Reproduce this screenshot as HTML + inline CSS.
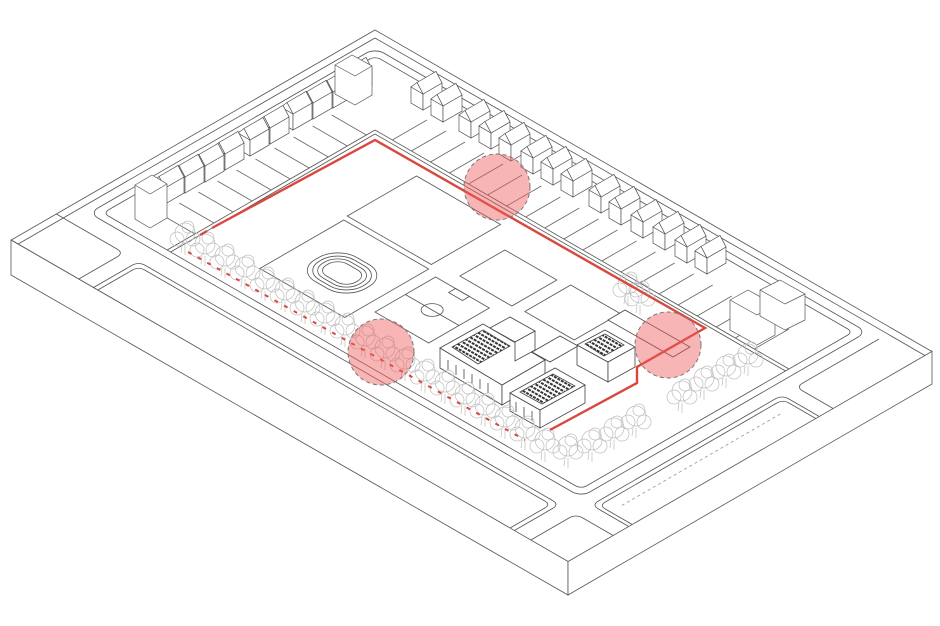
<!DOCTYPE html>
<html><head><meta charset="utf-8"><style>html,body{margin:0;padding:0;background:#fff}svg{display:block}</style></head>
<body>
<svg width="940" height="626" viewBox="0 0 940 626" xmlns="http://www.w3.org/2000/svg">
<defs>
<g id="house">
<polygon points="0,0 12,7 -7,18 -19,11" fill="#fff" stroke="#555" stroke-width="0.7"/>
<polygon points="-19,-5 6,-20.5 12,-9 -7,2" fill="#fff" stroke="#555" stroke-width="0.7"/>
<polygon points="-19,11 -7,18 -7,2 -19,-5" fill="#fff" stroke="#555" stroke-width="0.7"/>
<polygon points="-7,18 12,7 12,-9 -7,2" fill="#fff" stroke="#555" stroke-width="0.7"/>
<polygon points="-7,2 12,-9 6,-20.5 -13,-9.5" fill="#fff" stroke="#555" stroke-width="0.7"/>
<polygon points="-19,-5 -7,2 -13,-9.5" fill="#fff" stroke="#555" stroke-width="0.7"/>
</g>
<g id="tree" fill="none" stroke="#bdbdbd" stroke-width="0.7">
<circle cx="0" cy="-12" r="10"/><circle cx="-8" cy="-6" r="7"/><circle cx="8" cy="-6" r="7"/><circle cx="3" cy="-18" r="6"/>
<line x1="0" y1="0" x2="0" y2="10"/><line x1="-3" y1="0" x2="-4" y2="8"/>
</g>
<pattern id="pv" width="4" height="4" patternUnits="userSpaceOnUse" patternTransform="rotate(30)">
<rect width="4" height="4" fill="#fff"/><rect width="3" height="2" fill="#333"/>
</pattern>
</defs>

<polygon points="11,240 568,561 568,595 11,275" fill="#fff" stroke="#555" stroke-width="0.8"/>
<polygon points="568,561 932,351 932,384 568,595" fill="#fff" stroke="#555" stroke-width="0.8"/>

<g transform="matrix(0.866,0.5,-0.866,0.5,375,30)" fill="none" stroke="#555" stroke-width="0.8">
<rect x="0" y="0" width="643" height="420" fill="#fff" vector-effect="non-scaling-stroke"/>
<rect x="18" y="18" width="568" height="330" rx="10" vector-effect="non-scaling-stroke"/>
<rect x="26" y="26" width="552" height="314" rx="6" vector-effect="non-scaling-stroke"/>
<path d="M95,420 L95,376 Q95,368 103,368 L573,368 Q581,368 581,376 L581,420" vector-effect="non-scaling-stroke"/>
<path d="M100,420 L100,380 Q100,373 107,373 L569,373 Q576,373 576,380 L576,420" vector-effect="non-scaling-stroke"/>
<path d="M0,368 L70,368 Q78,368 78,376 L78,420" vector-effect="non-scaling-stroke"/>
<path d="M643,368 L608,368 Q600,368 600,376 L600,420" vector-effect="non-scaling-stroke"/>
<path d="M643,130 L608,130 Q600,130 600,138 L600,342 Q600,350 608,350 L643,350" vector-effect="non-scaling-stroke"/>
<path d="M643,134 L612,134 Q605,134 605,141 L605,339 Q605,346 612,346 L643,346" vector-effect="non-scaling-stroke"/>
<path d="M643,114 L608,114 Q600,114 600,106 L600,18" vector-effect="non-scaling-stroke"/>
<line x1="618" y1="150" x2="618" y2="335" stroke="#999" stroke-dasharray="3 3" vector-effect="non-scaling-stroke"/>
<line x1="8" y1="8" x2="643" y2="8" vector-effect="non-scaling-stroke"/>
<line x1="8" y1="8" x2="8" y2="420" vector-effect="non-scaling-stroke"/>
<line x1="100" y1="100" x2="578" y2="100" vector-effect="non-scaling-stroke"/>
<line x1="100" y1="100" x2="100" y2="340" vector-effect="non-scaling-stroke"/>
<line x1="104" y1="104" x2="578" y2="104" vector-effect="non-scaling-stroke"/>
<line x1="104" y1="104" x2="104" y2="340" vector-effect="non-scaling-stroke"/>
<rect x="170" y="122" width="97" height="80" vector-effect="non-scaling-stroke"/>
<rect x="172" y="208" width="98" height="97" vector-effect="non-scaling-stroke"/>
<rect x="195" y="238" width="58" height="48" rx="22" vector-effect="non-scaling-stroke"/>
<rect x="199" y="242" width="50" height="40" rx="19" vector-effect="non-scaling-stroke"/>
<rect x="203" y="246" width="42" height="32" rx="15" vector-effect="non-scaling-stroke"/>
<rect x="207" y="250" width="34" height="24" rx="11" vector-effect="non-scaling-stroke"/>
<rect x="295" y="145" width="60" height="52" vector-effect="non-scaling-stroke"/>
<rect x="368" y="142" width="57" height="53" vector-effect="non-scaling-stroke"/>
<rect x="282" y="212" width="62" height="70" vector-effect="non-scaling-stroke"/>
<line x1="282" y1="247" x2="344" y2="247" vector-effect="non-scaling-stroke"/>
<circle cx="313" cy="247" r="9" vector-effect="non-scaling-stroke"/>
<rect x="305" y="212" width="16" height="8" vector-effect="non-scaling-stroke"/>
<g stroke="#666">
<path d="M60,110 L100,110 M60,132 L100,132 M60,154 L100,154 M60,176 L100,176 M60,198 L100,198 M60,220 L100,220 M60,242 L100,242 M60,264 L100,264 M60,286 L100,286 M60,308 L100,308" vector-effect="non-scaling-stroke"/>
<path d="M120,60 L120,100 M142,60 L142,100 M164,60 L164,100 M186,60 L186,100 M208,60 L208,100 M230,60 L230,100 M252,60 L252,100 M274,60 L274,100 M296,60 L296,100 M318,60 L318,100 M340,60 L340,100 M362,60 L362,100 M384,60 L384,100 M406,60 L406,100 M428,60 L428,100 M450,60 L450,100 M472,60 L472,100 M494,60 L494,100 M516,60 L516,100 M538,60 L538,100" vector-effect="non-scaling-stroke"/>
</g>
</g>

<g>
<use href="#house" x="360" y="78"/><use href="#house" x="340" y="90"/><use href="#house" x="320" y="101"/>
<use href="#house" x="300" y="112"/><use href="#house" x="277" y="126"/><use href="#house" x="257" y="138"/>
<use href="#house" x="232" y="152"/><use href="#house" x="212" y="164"/><use href="#house" x="192" y="175"/>
<use href="#house" x="172" y="186"/>
</g>
<g>
<use href="#house" x="430" y="92"/><use href="#house" x="450" y="104"/><use href="#house" x="478" y="120"/>
<use href="#house" x="498" y="131"/><use href="#house" x="518" y="143"/><use href="#house" x="540" y="156"/>
<use href="#house" x="560" y="167"/><use href="#house" x="580" y="179"/><use href="#house" x="608" y="195"/>
<use href="#house" x="628" y="207"/><use href="#house" x="650" y="220"/><use href="#house" x="672" y="232"/>
<use href="#house" x="694" y="245"/><use href="#house" x="714" y="256"/>
</g>
<g fill="#fff" stroke="#555" stroke-width="0.7">
<polygon points="135,185 152,175 167,184 167,218 150,228 135,219"/>
<polyline points="135,185 150,194 167,184 M150,194 150,228" />
<polygon points="335,65 352,55 372,66 372,95 355,105 335,94"/>
<polyline points="335,65 355,76 372,66 M355,76 355,105"/>
<polygon points="730,300 748,290 775,305 775,335 757,345 730,330"/>
<polyline points="730,300 757,315 775,305 M757,315 757,345"/>
<polygon points="760,290 780,280 805,294 805,320 785,330 760,316"/>
<polyline points="760,290 785,304 805,294 M785,304 785,330"/>
</g>

<g stroke="#444" stroke-width="0.8" fill="#fff">
<polygon points="440,348 502,385 502,405 440,368"/>
<polygon points="502,385 545,360 545,380 502,405"/>
<polygon points="440,348 483,324 545,360 502,385"/>
<polygon points="452,347 483,330 510,346 478,364" fill="url(#pv)"/>
<polygon points="490,328 510,317 535,331 515,342"/>
<polygon points="515,342 535,331 535,350 515,361"/>
<polygon points="510,393 540,410 540,428 510,411"/>
<polygon points="540,410 585,385 585,403 540,428"/>
<polygon points="510,393 555,368 585,385 540,410"/>
<polygon points="520,392 553,374 575,386 542,404" fill="url(#pv)"/>
<polygon points="577,345 608,362 608,382 577,365"/>
<polygon points="608,362 635,347 635,367 608,382"/>
<polygon points="577,345 605,330 635,347 608,362"/>
<polygon points="585,344 605,334 624,345 604,356" fill="url(#pv)"/>
<polygon points="532,352 560,336 578,346 550,362"/>
<polygon points="608,320 625,310 690,347 673,357"/>
<path d="M448,360 v10 M456,365 v10 M464,369 v10 M472,374 v10 M480,379 v10 M488,383 v10 M516,402 v10 M524,407 v10 M532,411 v10" fill="none"/>
</g>

<g>
<use href="#tree" x="185" y="245"/><use href="#tree" x="205" y="256"/><use href="#tree" x="225" y="268"/>
<use href="#tree" x="245" y="279"/><use href="#tree" x="265" y="291"/><use href="#tree" x="285" y="302"/>
<use href="#tree" x="305" y="314"/><use href="#tree" x="325" y="325"/><use href="#tree" x="345" y="337"/>
<use href="#tree" x="365" y="348"/><use href="#tree" x="385" y="360"/><use href="#tree" x="405" y="371"/>
<use href="#tree" x="425" y="383"/><use href="#tree" x="445" y="394"/><use href="#tree" x="465" y="406"/>
<use href="#tree" x="485" y="417"/><use href="#tree" x="505" y="429"/><use href="#tree" x="525" y="440"/>
<use href="#tree" x="545" y="452"/><use href="#tree" x="568" y="458"/><use href="#tree" x="592" y="452"/>
<use href="#tree" x="614" y="440"/><use href="#tree" x="636" y="428"/><use href="#tree" x="682" y="403"/>
<use href="#tree" x="704" y="390"/><use href="#tree" x="726" y="378"/><use href="#tree" x="748" y="366"/>
<use href="#tree" x="640" y="305"/><use href="#tree" x="628" y="296"/>
</g>

<g fill="none" stroke="#d9473f" stroke-width="2.4">
<polyline points="212,228 375,140 705,328 637,367 637,383 550,430"/>
<line x1="200" y1="235" x2="207" y2="231"/>
<line x1="188" y1="252" x2="525" y2="440" stroke-dasharray="4 7" stroke-width="2"/>
</g>

<g fill="rgba(240,90,90,0.45)" stroke="#777" stroke-width="1" stroke-dasharray="4 3">
<circle cx="497" cy="187" r="33"/>
<circle cx="381" cy="352" r="33"/>
<circle cx="668" cy="345" r="33"/>
</g>
</svg>
</body></html>
